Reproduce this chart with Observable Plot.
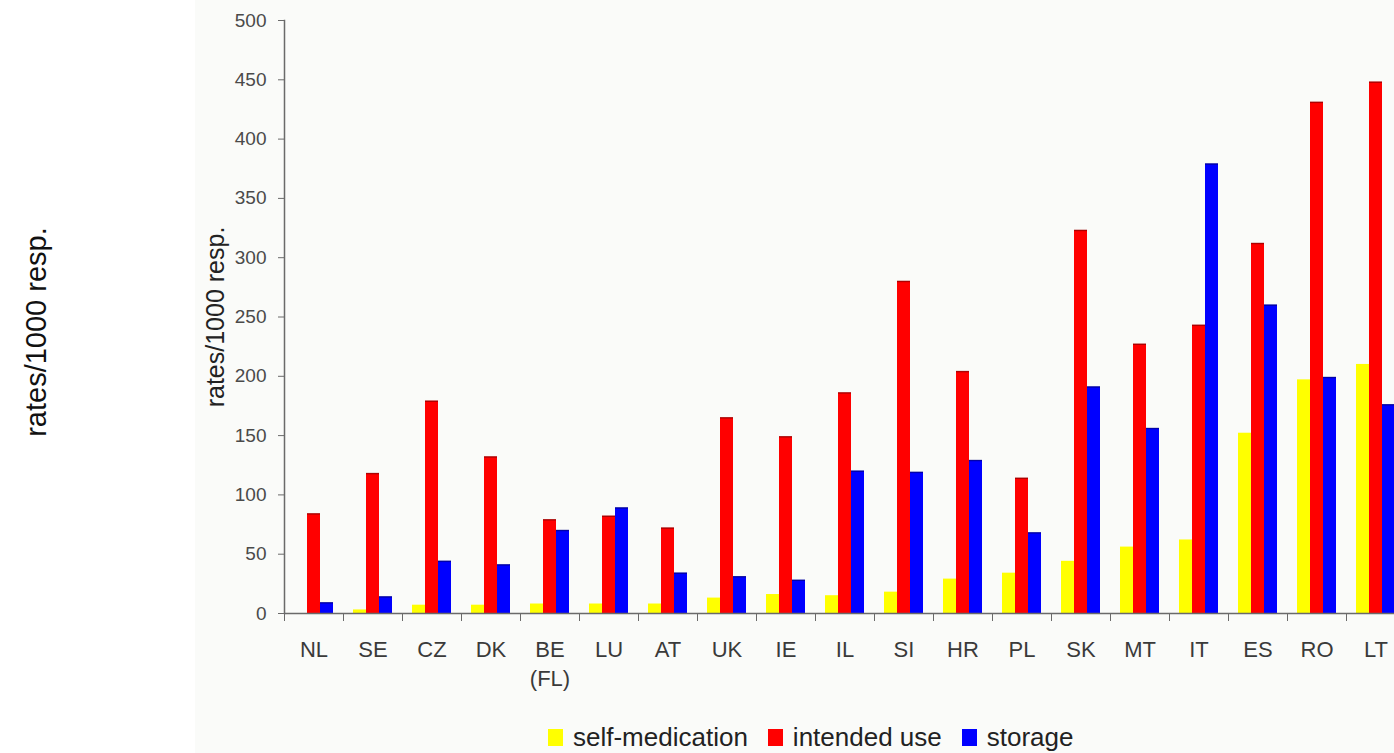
<!DOCTYPE html>
<html>
<head>
<meta charset="utf-8">
<script src="https://cdn.jsdelivr.net/npm/d3@7"></script>
<script src="https://cdn.jsdelivr.net/npm/@observablehq/plot@0.6"></script>
<style>
html, body { margin: 0; padding: 0; background: #fff; overflow: hidden; }
#wrap { position: relative; width: 1394px; height: 753px; overflow: hidden; font-family: "Liberation Sans", Arial, sans-serif; }
#panel { position: absolute; left: 195px; top: 0; width: 1199px; height: 753px; background: #fafbf9; }
#outer { position: absolute; left: 36px; top: 332px; transform: translate(-50%, -50%) rotate(-90deg); font-size: 29px; white-space: nowrap; color: #111; }
#chart { position: absolute; left: 0; top: 0; }
#legend { position: absolute; left: 548px; top: 722px; display: flex; align-items: center; font-size: 26px; color: #222; white-space: nowrap; }
#legend .item { display: flex; align-items: center; margin-right: 20px; }
#legend .sw { width: 15px; height: 17px; margin-right: 10px; }
</style>
</head>
<body>
<div id="wrap">
  <div id="panel"></div>
  <div id="outer">rates/1000 resp.</div>
  <div id="chart"></div>
  <div id="legend"></div>
</div>
<script>
const countries = ["NL","SE","CZ","DK","BE\n(FL)","LU","AT","UK","IE","IL","SI","HR","PL","SK","MT","IT","ES","RO","LT"];
const series = ["self-medication","intended use","storage"];
const selfMedication = [0, 3, 7, 7, 8, 8, 8, 13, 16, 15, 18, 29, 34, 44, 56, 62, 152, 197, 210];
const intendedUse   = [84, 118, 179, 132, 79, 82, 72, 165, 149, 186, 280, 204, 114, 323, 227, 243, 312, 431, 448];
const storage       = [9, 14, 44, 41, 70, 89, 34, 31, 28, 120, 119, 129, 68, 191, 156, 379, 260, 199, 176];
const colors = ["#ffff00", "#ff0000", "#0000ff"];
const edgeColors = ["#ffff00", "#7a0000", "#000070"];
const yTicks = [0, 50, 100, 150, 200, 250, 300, 350, 400, 450, 500];
const yLabel = "rates/1000 resp.";

const valuesBySeries = [selfMedication, intendedUse, storage];
const data = [];
countries.forEach((c, i) => {
  series.forEach((s, j) => data.push({country: c, series: s, value: valuesBySeries[j][i]}));
});

const W = 1405, left = 284;
const halfBand = (W - left) / countries.length / 2;

const chart = Plot.plot({
  width: W,
  height: 715,
  marginLeft: left,
  marginRight: 0,
  marginTop: 20,
  marginBottom: 102,
  style: {background: "transparent", maxWidth: "none", fontFamily: "'Liberation Sans', Arial, sans-serif", overflow: "visible"},
  fx: {domain: countries, padding: 0, label: null},
  x: {domain: series, paddingInner: 0, paddingOuter: 0.72, axis: null},
  y: {domain: [0, 500], label: null},
  color: {domain: series, range: colors},
  marks: [
    Plot.barY(data, {fx: "country", x: "series", y: "value", fill: "series"}),
    Plot.tickY(data.filter(d => d.series !== series[0] && d.value > 0), {
      fx: "country", x: "series", y: "value",
      stroke: d => edgeColors[series.indexOf(d.series)], strokeOpacity: 0.6, strokeWidth: 1.5
    }),
    Plot.ruleY([0], {stroke: "#6a6a6a", strokeWidth: 1.5}),
    Plot.frame({anchor: "left", facetAnchor: "left", stroke: "#6a6a6a", strokeWidth: 1.5}),
    Plot.axisY({
      ticks: yTicks, tickSize: 6, tickPadding: 12, fontSize: 19, color: "#4a4a4a", stroke: "#6a6a6a", label: null
    }),
    Plot.text([yLabel], {
      text: d => d, frameAnchor: "left", facetAnchor: "left", rotate: -90, dx: -69,
      fontSize: 25, fill: "#222", textAnchor: "middle", lineAnchor: "middle"
    }),
    Plot.axisFx({anchor: "bottom", tickSize: 0, tickPadding: 22, fontSize: 22, lineHeight: 1.35, color: "#3a3a3a", label: null}),
    Plot.axisFx({anchor: "bottom", tickSize: 8, tickFormat: () => "", dx: -halfBand, stroke: "#6a6a6a", label: null})
  ]
});
document.getElementById("chart").appendChild(chart);

const legend = document.getElementById("legend");
series.forEach((s, j) => {
  const item = document.createElement("div");
  item.className = "item";
  const sw = document.createElement("span");
  sw.className = "sw";
  sw.style.background = colors[j];
  const t = document.createElement("span");
  t.textContent = s;
  item.appendChild(sw);
  item.appendChild(t);
  legend.appendChild(item);
});
</script>
</body>
</html>
